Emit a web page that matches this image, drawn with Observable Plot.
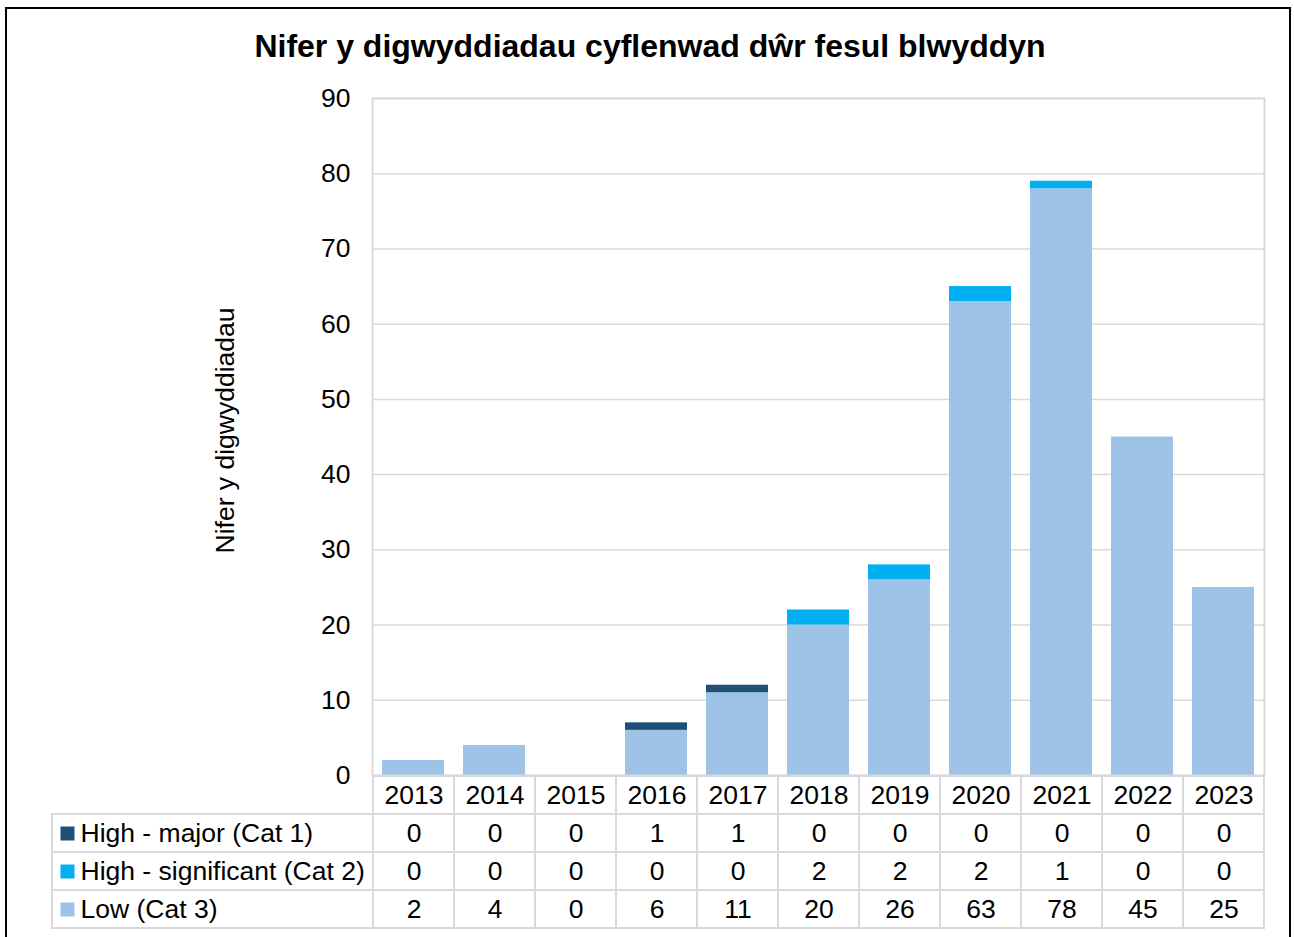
<!DOCTYPE html>
<html>
<head>
<meta charset="utf-8">
<script src="https://cdn.jsdelivr.net/npm/d3@7"></script>
<script src="https://cdn.jsdelivr.net/npm/@observablehq/plot@0.6"></script>
<style>
  body { margin: 0; background: #fff; overflow: hidden; font-family: "Liberation Sans", Arial, sans-serif; }
  #wrap { position: relative; width: 1294px; height: 937px; overflow: hidden; }
  #border { position: absolute; left: 5px; top: 7px; width: 1286px; height: 1000px; border: 2px solid #000; box-sizing: border-box; }
  #title { position: absolute; left: 0; top: 31px; width: 1300px; text-align: center; font-weight: bold; font-size: 32px; line-height: 31px; color: #000; }
  #chart { position: absolute; left: 0; top: 0; }
  #table { position: absolute; left: 0; top: 760px; }
</style>
</head>
<body>
<div id="wrap">
  <div id="border"></div>
  <div id="title">Nifer y digwyddiadau cyflenwad dŵr fesul blwyddyn</div>
  <div id="chart"></div>
  <div id="table"></div>
</div>
<script>
// ---- Data ----
const years = ["2013","2014","2015","2016","2017","2018","2019","2020","2021","2022","2023"];
const seriesNames = ["High - major (Cat 1)", "High - significant (Cat 2)", "Low (Cat 3)"];
const cat1 = [0, 0, 0, 1, 1, 0, 0, 0, 0, 0, 0];
const cat2 = [0, 0, 0, 0, 0, 2, 2, 2, 1, 0, 0];
const cat3 = [2, 4, 0, 6, 11, 20, 26, 63, 78, 45, 25];
const seriesColors = ["#1f4e79", "#00b0f0", "#9dc3e6"];
const yTicks = [0, 10, 20, 30, 40, 50, 60, 70, 80, 90];
const yLabel = "Nifer y digwyddiadau";

const seriesValues = [cat1, cat2, cat3];
const FONT = "'Liberation Sans', Arial, sans-serif";
const FS = 26.5;
const GRID = "#d9d9d9";

// Stack order: Low at bottom, then Cat 2, then Cat 1 on top
const barData = [];
[2, 1, 0].forEach(si => {
  years.forEach((yr, i) => barData.push({year: yr, series: seriesNames[si], value: seriesValues[si][i]}));
});

const xScale = {domain: years, range: [372, 1264], paddingInner: 0.24, paddingOuter: 0.12, axis: null};
const colorScale = {domain: seriesNames, range: seriesColors};

const chart = Plot.plot({
  width: 1294,
  height: 800,
  marginTop: 98,
  marginBottom: 25,
  marginLeft: 372,
  marginRight: 30,
  style: {fontFamily: FONT, fontSize: FS + "px", color: "#000", background: "transparent"},
  x: xScale,
  y: {domain: [0, 90], axis: null},
  color: colorScale,
  marks: [
    Plot.gridY(yTicks, {stroke: GRID, strokeOpacity: 1, strokeWidth: 1.5}),
    Plot.barY(barData, {x: "year", y: "value", fill: "series"}),
    Plot.frame({stroke: GRID, strokeWidth: 2}),
    Plot.axisY(yTicks, {tickSize: 0, tickPadding: 22, fontSize: FS, label: null, fill: "#000"}),
    Plot.text([yLabel], {text: d => d, frameAnchor: "left", textAnchor: "middle", rotate: -90, dx: -147, dy: -6.5, fontSize: 26.5, fill: "#000"})
  ]
});
document.getElementById("chart").appendChild(chart);

// ---- Data table ----
const rowKeys = ["Year", ...seriesNames];
const tableData = [];
years.forEach(yr => tableData.push({row: "Year", year: yr, text: yr}));
seriesNames.forEach((s, si) => {
  years.forEach((yr, i) => tableData.push({row: s, year: yr, text: String(seriesValues[si][i])}));
});

const table = Plot.plot({
  width: 1294,
  height: 175,
  marginTop: 15,
  marginBottom: 7,
  marginLeft: 52,
  marginRight: 30,
  style: {fontFamily: FONT, fontSize: FS + "px", color: "#000", background: "transparent"},
  x: {domain: years, range: [372, 1264], padding: 0, axis: null},
  y: {domain: rowKeys, padding: 0, axis: null},
  color: colorScale,
  marks: [
    Plot.cell(seriesNames, {y: d => d, fill: "none", stroke: GRID, strokeWidth: 2}),
    Plot.cell(tableData, {x: "year", y: "row", fill: "none", stroke: GRID, strokeWidth: 2}),
    Plot.text(tableData, {x: "year", y: "row", text: "text", fontSize: FS, fill: "#000"}),
    Plot.dot(seriesNames, {y: d => d, frameAnchor: "left", dx: 15, symbol: "square", r: 7.9, fill: d => d}),
    Plot.text(seriesNames, {y: d => d, text: d => d, frameAnchor: "left", dx: 28, textAnchor: "start", fontSize: FS, fill: "#000"})
  ]
});
document.getElementById("table").appendChild(table);
</script>
</body>
</html>
